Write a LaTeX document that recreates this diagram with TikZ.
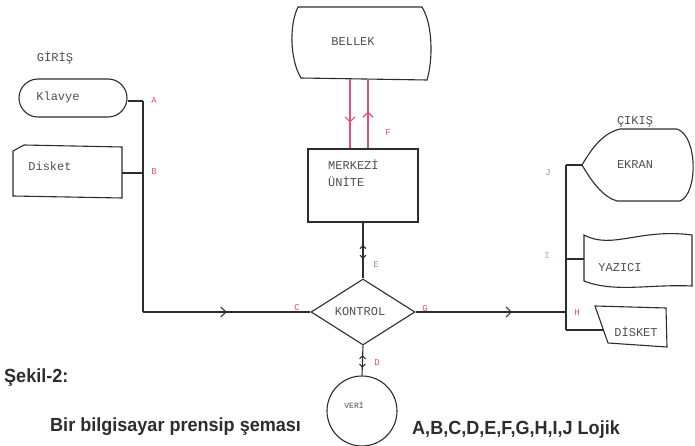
\documentclass[tikz,border=0pt]{standalone}
\usepackage{fontspec}
\usetikzlibrary{shapes.geometric,shapes.misc,arrows.meta,decorations.markings}
\newfontfamily\twfont{Liberation Mono}
\newfontfamily\capfont[FakeStretch=0.95]{Liberation Sans}
\definecolor{ink}{RGB}{45,45,45}
\definecolor{pinkc}{RGB}{228,80,125}
\definecolor{palepink}{RGB}{235,150,170}
\definecolor{txt}{RGB}{80,80,80}
\definecolor{lbgray}{RGB}{150,150,150}
\tikzset{
  shp/.style={draw=ink, line width=1.1pt},
  conn/.style={draw=ink, line width=1.1pt},
  pconn/.style={draw=pinkc, line width=1.1pt},
  tw/.style={font=\twfont\fontsize{12}{12}\selectfont, text=txt, inner sep=0pt},
  twsmall/.style={font=\twfont\fontsize{8}{8}\selectfont, text=txt, inner sep=0pt},
  lbl/.style={font=\twfont\fontsize{9}{9}\selectfont, text=pinkc, inner sep=0pt},
  captext/.style={font=\capfont\bfseries\fontsize{19}{19}\selectfont, text=ink, inner sep=0pt, anchor=west},
  chev/.style={postaction={decorate}, decoration={markings,
     mark=at position #1 with {\arrow{Straight Barb[length=5pt,width=10pt,line width=1.1pt]}}}},
  tick/.style 2 args={postaction={decorate}, decoration={markings,
     mark=at position #1 with {\arrowreversed{Straight Barb[length=3pt,width=6pt,line width=1pt]}},
     mark=at position #2 with {\arrow{Straight Barb[length=3pt,width=6pt,line width=1pt]}}}}
}
\begin{document}
\begin{tikzpicture}[x=1pt,y=-1pt]
\useasboundingbox[fill=white] (0,0) rectangle (695,446);

% ---------- input side ----------
\node[tw] (giris) at (55,58) {GİRİŞ};
\node[shp, rounded rectangle, minimum width=108pt, minimum height=38pt, inner sep=0pt] (klavye) at (73,98) {};
\node[tw] (tklavye) at (58,97) {Klavye};
\draw[shp] (13,151) -- (24,145) -- (122,147) -- (122,198) -- (13,196) -- cycle;
\coordinate (disket1) at (122,173);
\node[tw] (tdisket1) at (50,166) {Disket};

\coordinate (jA) at (143,101);
\coordinate (jB) at (143,173);
\coordinate (corner) at (143,312);
\draw[conn] (klavye.east |- jA) -- (jA);
\draw[conn] (disket1) -- (jB);
\node[lbl] (lA) at (154,101) {A};
\node[lbl] (lB) at (154,172) {B};

% ---------- memory and CPU ----------
\draw[shp] (298,7) -- (422,7) .. controls (433,25) and (433,60) .. (427,80)
   -- (301,78) .. controls (290,60) and (289,25) .. (298,7) -- cycle;
\node[minimum width=125pt, minimum height=71pt, inner sep=0pt] (bellek) at (362,43) {};
\node[tw] (tbellek) at (353,42) {BELLEK};

\node[shp, minimum width=110pt, minimum height=73pt, inner sep=0pt] (merkezi) at (363,185.5) {};
\node[tw, anchor=west] (tmerk1) at (328,165) {MERKEZİ};
\node[tw, anchor=west] (tmerk2) at (328,182) {ÜNİTE};

\draw[pconn, chev=0.63] (bellek.south -| 350,0) -- (merkezi.north -| 350,0);
\draw[pconn, chev=0.53] (merkezi.north -| 368,0) -- (bellek.south -| 368,0);
\node[lbl] (lF) at (388,133) {F};

% ---------- control ----------
\node[shp, diamond, minimum width=104pt, minimum height=66pt, inner sep=0pt] (kontrol) at (363,312) {};
\node[tw] (tkontrol) at (360,312) {KONTROL};

\draw[conn, tick={0.40}{0.65}] (merkezi.south) -- (kontrol.north);
\node[lbl, text=lbgray] (lE) at (376,265) {E};

\draw[conn] (jA) -- (corner);
\draw[conn, chev=0.5] (corner) -- (kontrol.west);
\node[lbl] (lC) at (297,308) {C};

% ---------- data ----------
\node[shp, circle, minimum size=70pt, inner sep=0pt] (veri) at (362,411) {};
\node[twsmall] (tveri) at (354,405) {VERİ};
\draw[conn, tick={0.32}{0.74}] (kontrol.south) -- (veri.north);
\node[lbl] (lD) at (377,363) {D};

% ---------- output side ----------
\coordinate (jG) at (566,312);
\coordinate (jJ) at (566,165);
\coordinate (jI) at (566,259);
\coordinate (jH) at (566,330);
\draw[conn, chev=0.64] (kontrol.east) -- (jG);
\node[lbl] (lG) at (425,309) {G};
\draw[conn] (jJ) -- (jH);

% EKRAN (display)
\draw[shp] (582,165) .. controls (592,148) and (603,133) .. (620,129) -- (677,129)
   .. controls (698,136) and (698,194) .. (680,201) -- (617,201)
   .. controls (603,197) and (592,182) .. (582,165) -- cycle;
\coordinate (ekran) at (582,165);
\node[tw] (tekran) at (635,165) {EKRAN};
\node[tw] (cikis) at (635,122) {ÇIKIŞ};
\draw[conn] (jJ) -- (ekran);
\node[lbl, text=lbgray] (lJ) at (548,173) {J};

% YAZICI (punched tape)
\draw[shp] (584,235) .. controls (612,250) and (640,228) .. (692,235) -- (692,286)
   .. controls (650,284) and (615,293) .. (584,281) -- cycle;
\coordinate (yazici) at (584,259);
\node[tw] (tyazici) at (620,268) {YAZICI};
\draw[conn] (jI) -- (yazici);
\node[lbl, text=palepink] (lI) at (547,256) {I};

% DISKET (output)
\draw[shp] (595,306) -- (666,308) -- (667,347) -- (608,343) -- cycle;
\coordinate (disket2) at (603,330);
\node[tw] (tdisket2) at (636,332) {DİSKET};
\draw[conn] (jH) -- (disket2);
\node[lbl] (lH) at (577,313) {H};

% ---------- captions ----------
\node[captext] (sekil) at (4,378) {Şekil-2:};
\node[captext] (cap1) at (50,427) {Bir bilgisayar prensip şeması};
\node[captext] (cap2) at (412,430) {A,B,C,D,E,F,G,H,I,J Lojik};
\end{tikzpicture}
\end{document}
